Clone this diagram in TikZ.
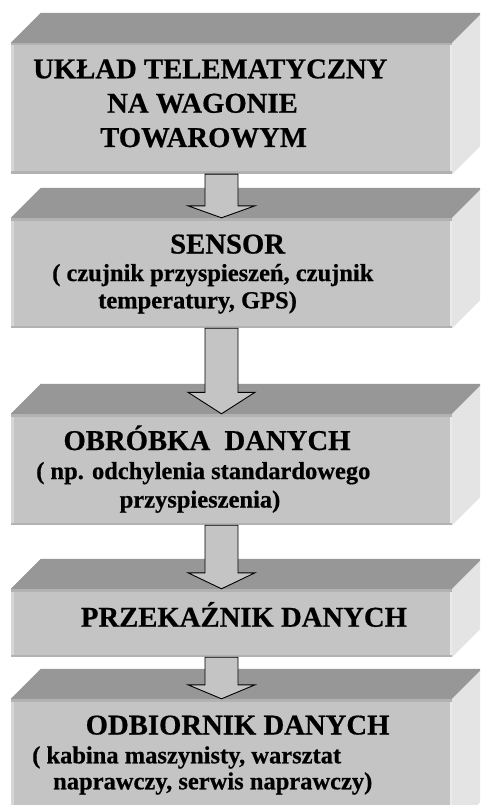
\documentclass[tikz,border=0pt]{standalone}
\usepackage{fontspec}
\setmainfont{Liberation Serif}[BoldFeatures={FakeBold=0.6}]
\usetikzlibrary{calc}
\definecolor{frontc}{HTML}{C4C4C4}
\definecolor{topc}{HTML}{979797}
\definecolor{sidec}{HTML}{E4E4E4}
\definecolor{darkedge}{HTML}{B2B2B2}
\definecolor{lightedge}{HTML}{D6D6D6}
\definecolor{rightedge}{HTML}{EAEAEA}
\tikzset{
  front/.style={rectangle, fill=frontc, inner sep=0pt, minimum width=441pt,
    path picture={
      \fill[lightedge] (path picture bounding box.south west) rectangle ([xshift=3pt]path picture bounding box.north west);
      \fill[rightedge] ([xshift=-2.5pt]path picture bounding box.south east) rectangle (path picture bounding box.north east);
      \fill[darkedge] (path picture bounding box.north west) rectangle ([yshift=-2.5pt]path picture bounding box.north east);
      \fill[darkedge] ([yshift=2.5pt]path picture bounding box.south west) rectangle (path picture bounding box.south east);
    }},
  topface/.style={fill=topc},
  sideface/.style={fill=sidec},
  arrowst/.style={draw=black, line width=0.9pt, fill=frontc, line join=miter},
  title/.style={inner sep=0pt, anchor=base west, font=\bfseries\fontsize{28.7}{34}\selectfont},
  sub/.style={inner sep=0pt, anchor=base west, font=\bfseries\fontsize{24.5}{28}\selectfont},
}
\newcommand{\boxthree}[1]{%
  \fill[topface] (#1.north west) -- ([xshift=30pt,yshift=30pt]#1.north west) -- ([xshift=30pt,yshift=30pt]#1.north east) -- (#1.north east) -- cycle;
  \fill[sideface] (#1.north east) -- ([xshift=30pt,yshift=30pt]#1.north east) -- ([xshift=30pt,yshift=30pt]#1.south east) -- (#1.south east) -- cycle;
}
\newcommand{\blockarr}[3]{%
  \draw[arrowst] ([xshift=-26.5pt]#1.south) -- ([xshift=6.5pt]#1.south) -- ([xshift=6.5pt,yshift=#3]#2.north) -- ([xshift=23.5pt,yshift=#3]#2.north) -- ([xshift=-10pt]#2.north) -- ([xshift=-43.5pt,yshift=#3]#2.north) -- ([xshift=-26.5pt,yshift=#3]#2.north) -- cycle;
}
\begin{document}
\begin{tikzpicture}[x=1pt, y=-1pt]
\useasboundingbox (0,0) rectangle (480,805);
\clip (0,0) rectangle (480,805);
\fill[white] (0,0) rectangle (480,805);
% front faces
\node[front, minimum height=131pt] (b1) at (231.5,108.5) {};
\node[front, minimum height=110pt] (b2) at (231.5,273) {};
\node[front, minimum height=111pt] (b3) at (231.5,469.5) {};
\node[front, minimum height=68pt] (b4) at (231.5,623) {};
\node[front, minimum height=131pt] (b5) at (231.5,764.5) {};
\boxthree{b1}
\boxthree{b2}
\boxthree{b3}
\boxthree{b4}
\boxthree{b5}
% arrows
\blockarr{b1}{b2}{12pt}
\blockarr{b2}{b3}{21.5pt}
\blockarr{b3}{b4}{16pt}
\blockarr{b4}{b5}{14pt}
% texts
\node[title] (t1a) at (33,78.3) {UKŁAD TELEMATYCZNY};
\node[title] (t1b) at (107,112.7) {NA WAGONIE};
\node[title] (t1c) at (100,147) {TOWAROWYM};
\node[title] (t2a) at (170,253.5) {SENSOR};
\node[sub] (t2b) at (52,281) {( czujnik przyspieszeń, czujnik};
\node[sub] (t2c) at (98,308.3) {temperatury, GPS)};
\node[title] (t3a) at (63.3,450) {OBRÓBKA\ \ DANYCH};
\node[sub] (t3b) at (36,479) {( np. odchylenia standardowego};
\node[sub] (t3c) at (119.5,507.5) {przyspieszenia)};
\node[title] (t4a) at (80.7,626.7) {PRZEKAŹNIK DANYCH};
\node[title] (t5a) at (85.5,734.5) {ODBIORNIK DANYCH};
\node[sub] (t5b) at (32,763.3) {( kabina maszynisty, warsztat};
\node[sub] (t5c) at (53,789.3) {naprawczy, serwis naprawczy)};
\end{tikzpicture}
\end{document}
